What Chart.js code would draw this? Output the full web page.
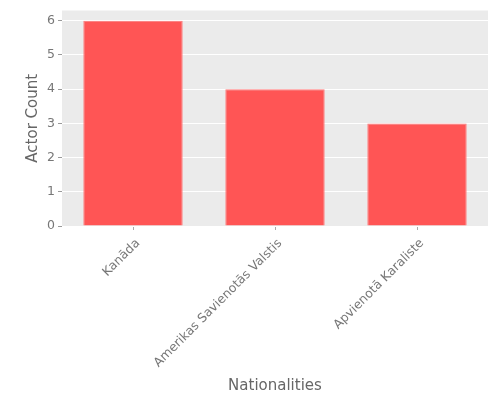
<!DOCTYPE html>
<html>
<head>
<meta charset="utf-8">
<script src="https://cdn.jsdelivr.net/npm/chart.js@4"></script>
<style>
  html, body { margin: 0; padding: 0; background: #fff; }
  #wrap { width: 500px; height: 400px; }
</style>
</head>
<body>
<div id="wrap"><canvas id="chart"></canvas></div>
<script>
const nationalities = ['Kanāda', 'Amerikas Savienotās Valstis', 'Apvienotā Karaliste'];
const actorCounts = [6, 4, 3];
const yTicks = [0, 1, 2, 3, 4, 5, 6];

Chart.defaults.font.family = 'DejaVu Sans';
Chart.defaults.color = '#555555';

const plotBg = {
  id: 'plotBg',
  beforeDraw(chart) {
    const a = chart.chartArea;
    const ctx = chart.ctx;
    ctx.save();
    ctx.fillStyle = '#ebebeb';
    ctx.fillRect(a.left, a.top, a.right - a.left, a.bottom - a.top);
    ctx.restore();
  },
};

new Chart(document.getElementById('chart').getContext('2d'), {
  type: 'bar',
  data: {
    labels: nationalities,
    datasets: [{
      label: 'Actor Count',
      data: actorCounts,
      backgroundColor: '#ff5555',
      borderColor: '#ff7a7a',
      borderWidth: 1,
      barPercentage: 0.7,
      categoryPercentage: 1,
    }],
  },
  options: {
    responsive: true,
    maintainAspectRatio: false,
    animation: false,
    layout: { padding: { top: 10, right: 12, left: 0, bottom: 5 } },
    plugins: { legend: { display: false }, tooltip: { enabled: false } },
    scales: {
      x: {
        offset: true,
        grid: { display: true, drawOnChartArea: false, offset: false, tickLength: 4, tickColor: '#aaa' },
        border: { display: false },
        ticks: { maxRotation: 45, minRotation: 45, font: { size: 12.5 }, color: '#777', padding: 6, labelOffset: 5 },
        title: { display: true, text: 'Nationalities', font: { size: 15 }, color: '#666', padding: { top: 4, bottom: 0 } },
        afterFit(scale) { scale.height = 169; },
      },
      y: {
        min: 0,
        max: 6.3,
        grid: { color: '#ffffff', lineWidth: 1, tickLength: 4, tickColor: '#999' },
        border: { display: false },
        ticks: { font: { size: 12.5 }, color: '#777', padding: 3 },
        afterBuildTicks(scale) { scale.ticks = yTicks.map(v => ({ value: v })); },
        title: { display: true, text: 'Actor Count', font: { size: 15 }, color: '#666', padding: { top: 24, bottom: 0 } },
        afterFit(scale) { scale.width = 62; },
      },
    },
  },
  plugins: [plotBg],
});
</script>
</body>
</html>
